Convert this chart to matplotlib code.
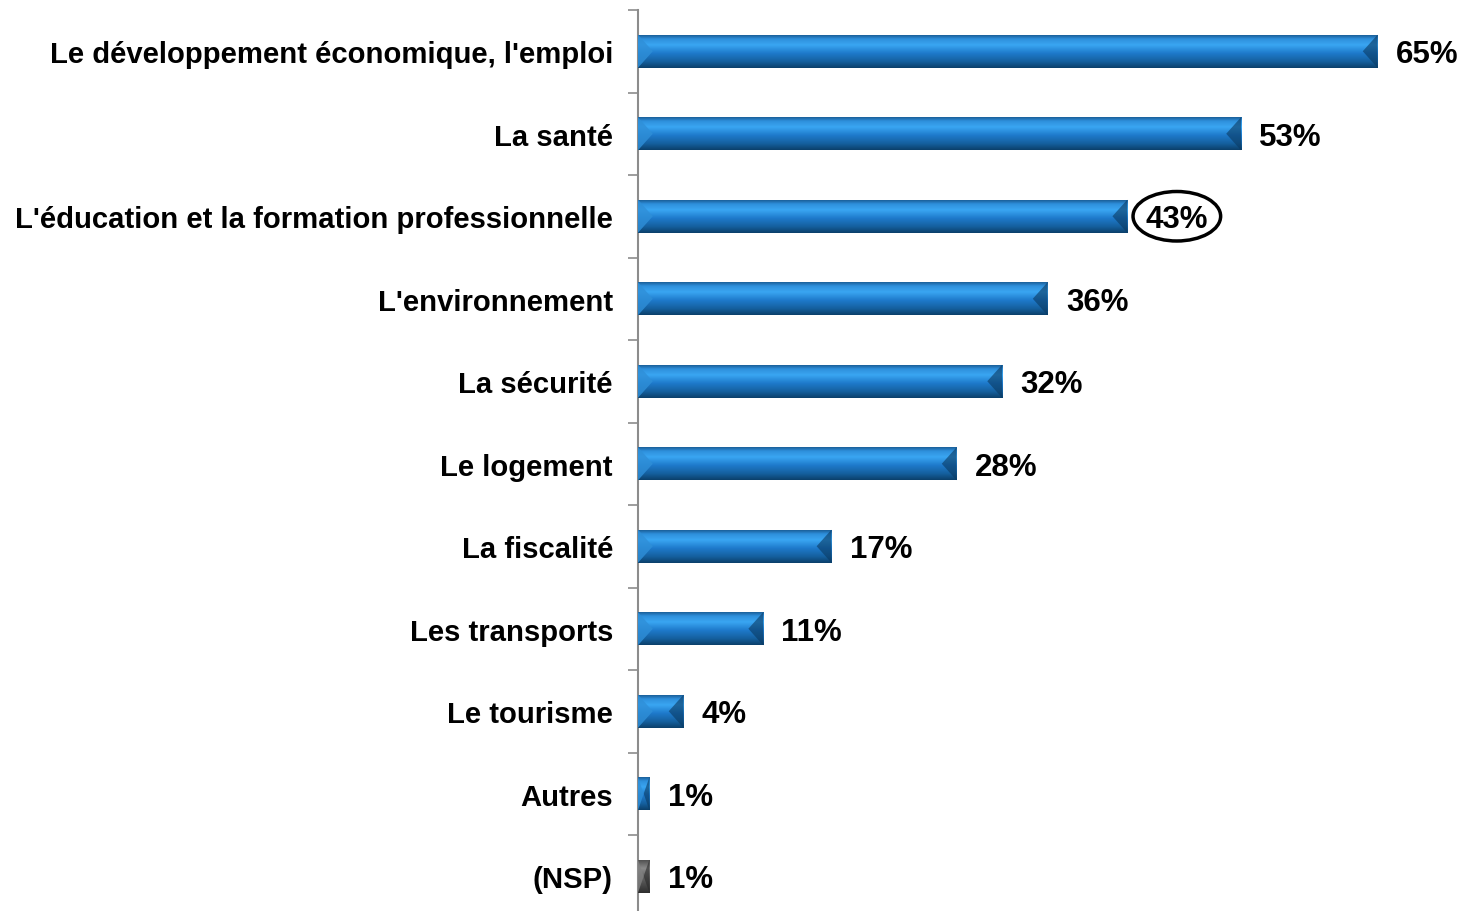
import matplotlib
matplotlib.use("Agg")
import matplotlib.pyplot as plt
import numpy as np
from matplotlib.colors import LinearSegmentedColormap
from matplotlib.patches import Ellipse, Polygon

plt.rcParams['font.family'] = ['Liberation Sans', 'DejaVu Sans']

categories = ["Le développement économique, l'emploi", "La santé",
              "L'éducation et la formation professionnelle", "L'environnement",
              "La sécurité", "Le logement", "La fiscalité", "Les transports",
              "Le tourisme", "Autres", "(NSP)"]
values = [65, 53, 43, 36, 32, 28, 17, 11, 4, 1, 1]
value_labels = ["65%", "53%", "43%", "36%", "32%", "28%", "17%", "11%", "4%", "1%", "1%"]
highlight = "L'éducation et la formation professionnelle"

blue_cmap = LinearSegmentedColormap.from_list(
    "blue", [(0.0, "#1A5E98"), (0.12, "#2E90DC"), (0.3, "#3AA6F2"),
             (0.55, "#1E7ACB"), (0.8, "#15609F"), (1.0, "#0B3F6A")])
gray_cmap = LinearSegmentedColormap.from_list(
    "gray", [(0.0, "#505050"), (0.25, "#8A8A8A"), (0.55, "#606060"),
             (1.0, "#2E2E2E")])

fig = plt.figure(figsize=(14.64, 9.12), dpi=100)
ax = fig.add_axes([638 / 1464, -6.5 / 912, 1 - 638 / 1464, 907.5 / 912])

n = len(categories)
ypos = np.arange(n)
h = 0.4
bars = ax.barh(ypos, values, height=h, color="#1E7ACB", zorder=2)
ax.set_xlim(0, 72.6)
ax.set_ylim(n - 0.5, -0.5)

grad = np.linspace(0, 1, 256).reshape(-1, 1)
for i, (bar, v, cat) in enumerate(zip(bars, values, categories)):
    cmap = gray_cmap if cat == "(NSP)" else blue_cmap
    y0 = i - h / 2
    y1 = i + h / 2
    im = ax.imshow(grad, aspect="auto", cmap=cmap, extent=[0, v, y1, y0],
                   origin="upper", zorder=3, interpolation="bilinear")
    im.set_clip_path(bar)
    bw = min(1.3, v / 2)
    dark = "#0A3A62" if cat != "(NSP)" else "#2A2A2A"
    light = "#2F8FD8" if cat != "(NSP)" else "#808080"
    ax.add_patch(Polygon([[v, y0], [v - bw, i], [v, y1]], closed=True,
                         facecolor=dark, edgecolor="none", alpha=0.6, zorder=4))
    ax.add_patch(Polygon([[0, y0], [bw, i], [0, y1]], closed=True,
                         facecolor=light, edgecolor="none", alpha=0.8, zorder=4))

for i, (v, lab, cat) in enumerate(zip(values, value_labels, categories)):
    ax.text(v + 1.6, i + 0.035, lab, va="center", ha="left", fontsize=22.5,
            fontweight="bold", color="black", zorder=5)
    if cat == highlight:
        ax.add_patch(Ellipse((v + 4.36, i), width=7.7, height=0.6,
                             facecolor="none", edgecolor="black",
                             linewidth=2.5, zorder=5))

ax.set_yticks(ypos)
ax.set_yticklabels(categories, fontsize=21.1, fontweight="bold")
ax.set_yticks(np.arange(-0.5, n, 1.0), minor=True)
ax.tick_params(axis="y", which="major", length=0, pad=18)
ax.tick_params(axis="y", which="minor", length=7, width=1.2, color="#8C8C8C")
ax.set_xticks([])
for s in ["top", "right", "bottom"]:
    ax.spines[s].set_visible(False)
ax.spines["left"].set_color("#8C8C8C")
ax.spines["left"].set_linewidth(1.5)
ax.patch.set_alpha(0)

fig.savefig("out.png", dpi=100)
